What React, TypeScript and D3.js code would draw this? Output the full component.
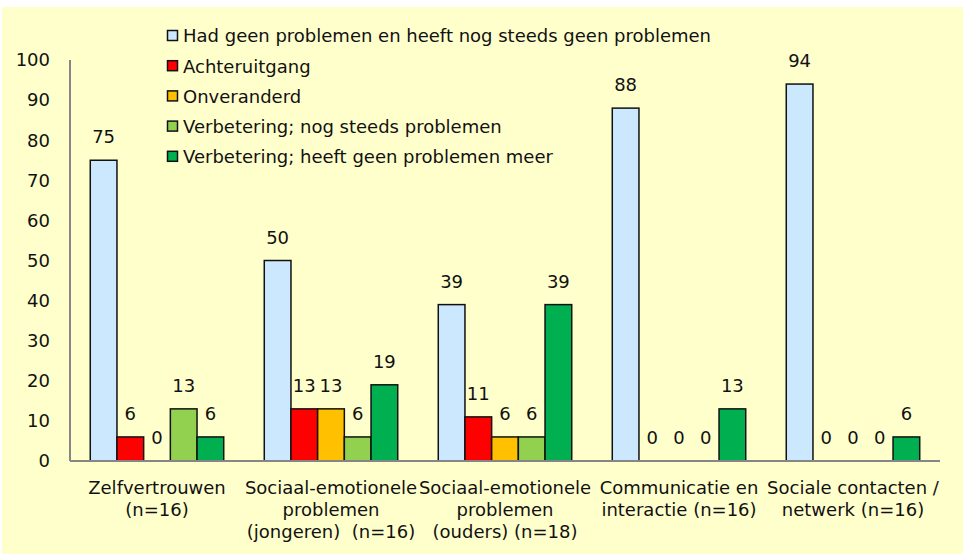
import React from 'react';
import * as d3 from 'd3';

const categories = [
  ['Zelfvertrouwen', '(n=16)'],
  ['Sociaal-emotionele', 'problemen', '(jongeren)  (n=16)'],
  ['Sociaal-emotionele', 'problemen', '(ouders) (n=18)'],
  ['Communicatie en', 'interactie (n=16)'],
  ['Sociale contacten /', 'netwerk (n=16)'],
];
const seriesNames = [
  'Had geen problemen en heeft nog steeds geen problemen',
  'Achteruitgang',
  'Onveranderd',
  'Verbetering; nog steeds problemen',
  'Verbetering; heeft geen problemen meer',
];
const hadGeen = [75, 50, 39, 88, 94];
const achteruit = [6, 13, 11, 0, 0];
const onveranderd = [0, 13, 6, 0, 0];
const verbeterNog = [13, 6, 6, 0, 0];
const verbeterGeen = [6, 19, 39, 13, 6];
const yTicks = [0, 10, 20, 30, 40, 50, 60, 70, 80, 90, 100];
const colors = ['#CCE8FF', '#FF0000', '#FFC000', '#92D050', '#00B050'];

const W = 963, H = 554;
const FONT = 'Tahoma, "DejaVu Sans", sans-serif';
const FS = 18;

export default function App() {
  const series = [hadGeen, achteruit, onveranderd, verbeterNog, verbeterGeen];
  const idx = categories.map((_, i) => String(i));

  const x = d3.scaleBand().domain(idx).range([70, 940]).paddingInner(0.233).paddingOuter(0.1165);
  const x1 = d3.scaleBand().domain(seriesNames).range([0, x.bandwidth()]);
  const y = d3.scaleLinear().domain([0, 100]).range([461, 60]);

  return (
    <div style={{ position: 'fixed', left: 0, top: 0 }}>
      <svg width={W} height={H} style={{ display: 'block' }} fontFamily={FONT}>
        <rect x={0} y={0} width={W} height={H} fill="#fff" />
        <rect x={2} y={7} width={W - 2} height={H - 7} fill="#FFFFCC" />

        {/* y tick labels */}
        {yTicks.map(t => (
          <text key={t} x={50} y={y(t)} dy="0.35em" textAnchor="end" fontSize={FS} fill="#111">{t}</text>
        ))}

        {/* bars */}
        {series.map((vals, s) =>
          vals.map((v, i) => {
            const bx = (x(String(i)) ?? 0) + (x1(seriesNames[s]) ?? 0);
            return (
              <g key={`${s}-${i}`}>
                {v > 0 && (
                  <rect x={bx} y={y(v)} width={x1.bandwidth()} height={y(0) - y(v)}
                    fill={colors[s]} stroke="#111" strokeWidth={1.5} />
                )}
                <text x={bx + x1.bandwidth() / 2} y={y(v) - 17} textAnchor="middle" fontSize={FS} fill="#111">{v}</text>
              </g>
            );
          })
        )}

        {/* axes */}
        <line x1={70} x2={70} y1={y(100)} y2={y(0)} stroke="#868686" strokeWidth={2} />
        <line x1={70} x2={940} y1={y(0)} y2={y(0)} stroke="#868686" strokeWidth={2} />

        {/* category labels */}
        {categories.map((lines, i) => (
          <text key={i} x={(x(String(i)) ?? 0) + x.bandwidth() / 2} textAnchor="middle" fontSize={FS} fill="#111">
            {lines.map((l, j) => (
              <tspan key={j} x={(x(String(i)) ?? 0) + x.bandwidth() / 2} y={494 + j * 22} style={{ whiteSpace: 'pre' }}>{l}</tspan>
            ))}
          </text>
        ))}

        {/* legend */}
        {seriesNames.map((n, s) => (
          <g key={n} transform={`translate(167, ${36 + s * 30.2})`}>
            <rect x={0.5} y={-5.5} width={10} height={10} fill={colors[s]} stroke="#111" strokeWidth={1.5} />
            <text x={16} y={0} dy="0.35em" fontSize={FS} fill="#111">{n}</text>
          </g>
        ))}
      </svg>
    </div>
  );
}
